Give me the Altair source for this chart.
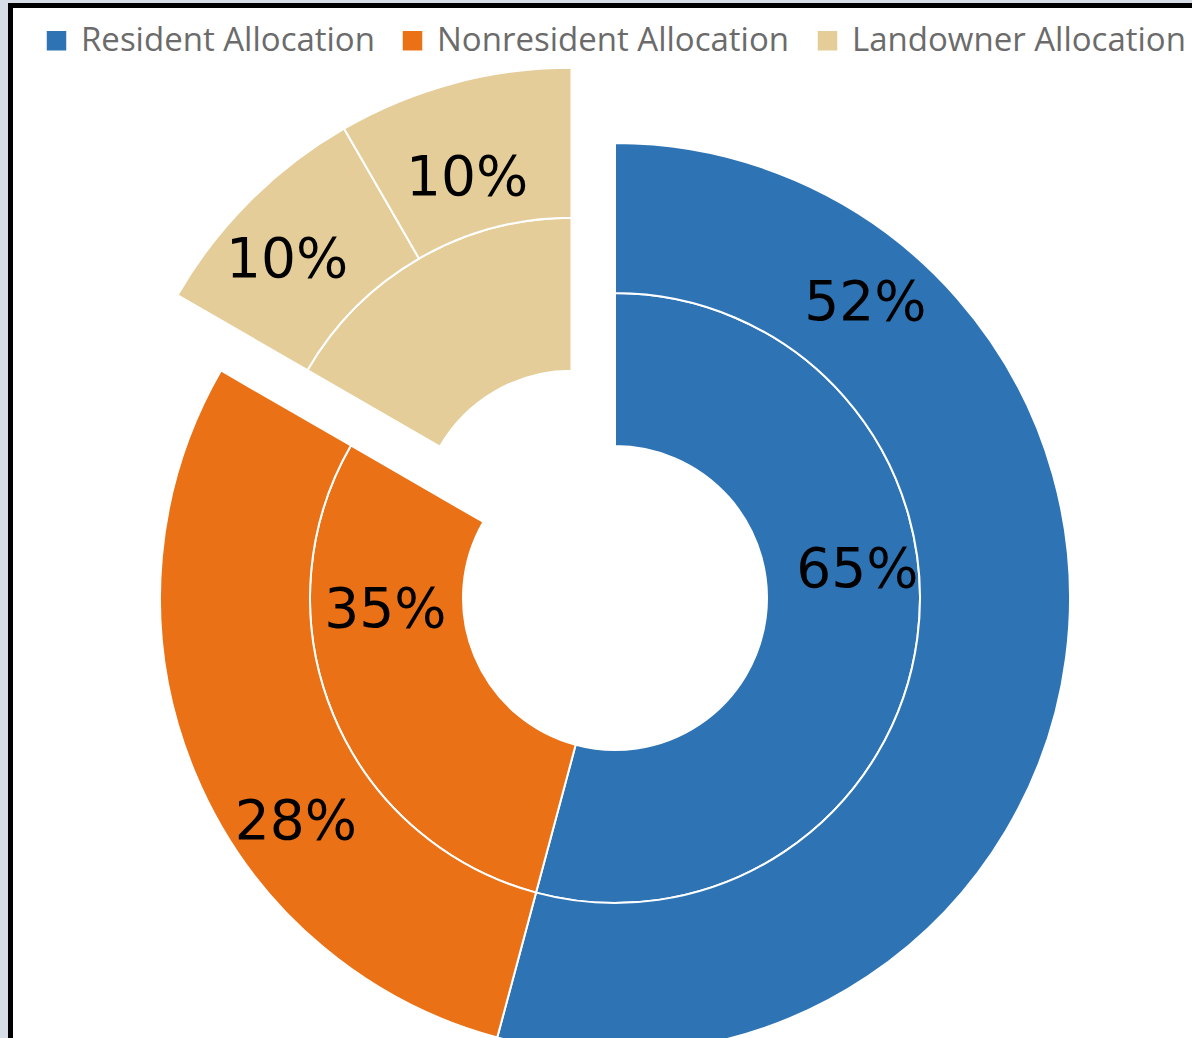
import numpy as np
import pandas as pd
import altair as alt

# ---------------- data ----------------
categories = ["Resident Allocation", "Nonresident Allocation", "Landowner Allocation"]
colors = ["#2E74B5", "#EA7116", "#E4CD98"]

# inner ring (slice sizes as drawn) and its labels
inner_groups = ["Resident Allocation", "Nonresident Allocation", "Landowner Allocation"]
inner_values = [65, 35, 20]
inner_labels = ["65%", "35%", ""]

# outer ring (slice sizes as drawn) and its labels
outer_groups = ["Resident Allocation", "Nonresident Allocation",
                "Landowner Allocation", "Landowner Allocation"]
outer_values = [65, 35, 10, 10]
outer_labels = ["52%", "28%", "10%", "10%"]

# ---------------- style / layout ----------------
W, H = 1192, 1038
CX, CY = 615, 598
R_IN, R_MID, R_OUT = 152, 305, 455
EXPLODE = 87  # px, landowner slices pulled out along their bisector
# label placement (degrees clockwise from 12 o'clock, radius px from the centre)
inner_label_pos = [(83.4, 244), (267.0, 230), None]
outer_label_pos = [(40.3, 387), (234.9, 390), (315.9, 471), (340.6, 445)]


def ring_frame(groups, values):
    v = np.asarray(values, dtype=float)
    frac = v / v.sum() * 2 * np.pi
    end = np.cumsum(frac)
    start = end - frac
    return pd.DataFrame({"group": groups, "start": start, "end": end})


inner = ring_frame(inner_groups, inner_values)
outer = ring_frame(outer_groups, outer_values)

# explosion offset for landowner slices (bisector of their combined wedge)
land = inner[inner.group == "Landowner Allocation"]
mid = float((land.start.iloc[0] + land.end.iloc[0]) / 2)
EX = CX + EXPLODE * np.sin(mid)
EY = CY - EXPLODE * np.cos(mid)

color_enc = alt.Color(
    "group:N",
    scale=alt.Scale(domain=categories, range=colors),
    legend=alt.Legend(
        orient="none", legendX=40, legendY=24, direction="horizontal",
        title=None, symbolType="square", symbolSize=380, symbolStrokeWidth=0,
        symbolOpacity=1, labelFontSize=33, labelFont="Open Sans",
        labelColor="#6B6B6B", columnPadding=21, labelOffset=8, padding=0,
        labelLimit=800,
    ),
)

one = pd.DataFrame({"a": [0]})
bg = alt.Chart(one).mark_rect(color="white").encode(
    x=alt.value(13), x2=alt.value(W), y=alt.value(8), y2=alt.value(H)
)
left_rule = alt.Chart(one).mark_rule(color="black", strokeWidth=5).encode(
    x=alt.value(10.5), y=alt.value(3), y2=alt.value(H)
)
top_rule = alt.Chart(one).mark_rule(color="black", strokeWidth=5).encode(
    x=alt.value(8), x2=alt.value(W), y=alt.value(5.5)
)


def arcs(df, r0, r1, cx, cy):
    return alt.Chart(df).mark_arc(
        innerRadius=r0, outerRadius=r1, stroke="white", strokeWidth=2
    ).encode(
        theta=alt.Theta("start:Q", scale=None),
        theta2="end:Q",
        color=color_enc,
        x=alt.value(cx), y=alt.value(cy),
    )


is_land = inner.group == "Landowner Allocation"
is_land_o = outer.group == "Landowner Allocation"
layers = [
    arcs(inner[~is_land], R_IN, R_MID, CX, CY),
    arcs(inner[is_land], R_IN, R_MID, EX, EY),
    arcs(outer[~is_land_o], R_MID, R_OUT, CX, CY),
    arcs(outer[is_land_o], R_MID, R_OUT, EX, EY),
]

# labels
lab_txt, lab_ang, lab_r = [], [], []
for texts, pos in ((inner_labels, inner_label_pos), (outer_labels, outer_label_pos)):
    for t, p in zip(texts, pos):
        if t and p:
            lab_txt.append(t)
            lab_ang.append(np.deg2rad(p[0]))
            lab_r.append(p[1])
labels = pd.DataFrame({"text": lab_txt, "ang": lab_ang, "r": lab_r})

text = alt.Chart(labels).mark_text(
    font="DejaVu Sans", fontSize=55, color="black", align="center", baseline="middle"
).encode(
    theta=alt.Theta("ang:Q", scale=None),
    radius=alt.Radius("r:Q", scale=None),
    text="text:N",
    x=alt.value(CX), y=alt.value(CY),
)

chart = alt.layer(bg, left_rule, top_rule, *layers, text).properties(
    width=W, height=H, padding=0, autosize="none", background="#D7DDE6"
).configure_view(strokeWidth=0)

chart.save("out.html", embed_options={"renderer": "svg", "actions": False})
